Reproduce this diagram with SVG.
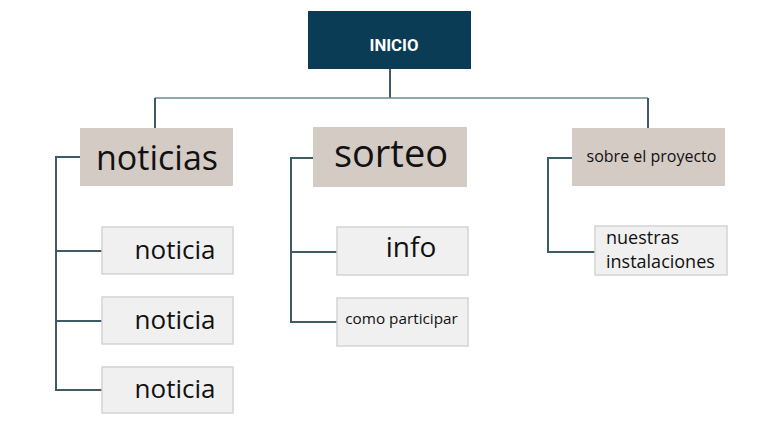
<svg xmlns="http://www.w3.org/2000/svg" width="770" height="443" viewBox="0 0 770 443">
<style>
.main{fill:#d5cbc5}
.sub{fill:#f0f0f0;stroke:#d4d4d4;stroke-width:1.5}
.t{font-family:"Open Sans","Noto Sans",sans-serif;fill:#111}
.c{fill:none;stroke:#3f5c66;stroke-width:2}
.top{fill:none;stroke:#6a8a94;stroke-width:1.5}
</style>
<rect width="770" height="443" fill="#fff"/>
<g id="connectors">
<path class="c" d="M390,69 V98"/>
<path class="top" d="M155,98 H648"/>
<path class="c" d="M155,98 V128 M648,98 V128"/>
<path class="c" d="M80,157 H56 V390 H102 M56,251 H102 M56,321 H102"/>
<path class="c" d="M313,158 H291 V322 H337 M291,252 H337"/>
<path class="c" d="M572,158 H548 V252 H595"/>
</g>
<g id="inicio">
<rect x="308" y="11" width="163" height="58" fill="#0b3c55"/>
<text x="394" y="51" text-anchor="middle" font-family="Roboto,'Liberation Sans',sans-serif" font-weight="bold" font-size="17" fill="#fff" textLength="49" lengthAdjust="spacingAndGlyphs">INICIO</text>
</g>
<g id="noticias">
<rect class="main" x="80" y="128" width="153" height="58"/>
<text class="t" x="157" y="170" text-anchor="middle" font-size="34">noticias</text>
</g>
<g id="noticia1">
<rect class="sub" x="102" y="227" width="131" height="47"/>
<text class="t" x="175" y="259" text-anchor="middle" font-size="26">noticia</text>
</g>
<g id="noticia2">
<rect class="sub" x="102" y="297" width="131" height="47"/>
<text class="t" x="175" y="329" text-anchor="middle" font-size="26">noticia</text>
</g>
<g id="noticia3">
<rect class="sub" x="102" y="367" width="131" height="46"/>
<text class="t" x="175" y="398" text-anchor="middle" font-size="26">noticia</text>
</g>
<g id="sorteo">
<rect class="main" x="313" y="127" width="154" height="60"/>
<text class="t" x="391" y="167" text-anchor="middle" font-size="38">sorteo</text>
</g>
<g id="info">
<rect class="sub" x="337" y="227" width="131" height="48"/>
<text class="t" x="411" y="257" text-anchor="middle" font-size="28">info</text>
</g>
<g id="como">
<rect class="sub" x="337" y="298" width="131" height="48"/>
<text class="t" x="401.5" y="324" text-anchor="middle" font-size="15.3">como participar</text>
</g>
<g id="sobre">
<rect class="main" x="572" y="128" width="153" height="58"/>
<text class="t" x="651.5" y="162" text-anchor="middle" font-size="16">sobre el proyecto</text>
</g>
<g id="nuestras">
<rect class="sub" x="595" y="226" width="132" height="49"/>
<text class="t" x="606" y="244" font-size="18">nuestras</text>
<text class="t" x="606" y="268" font-size="18">instalaciones</text>
</g>
</svg>
